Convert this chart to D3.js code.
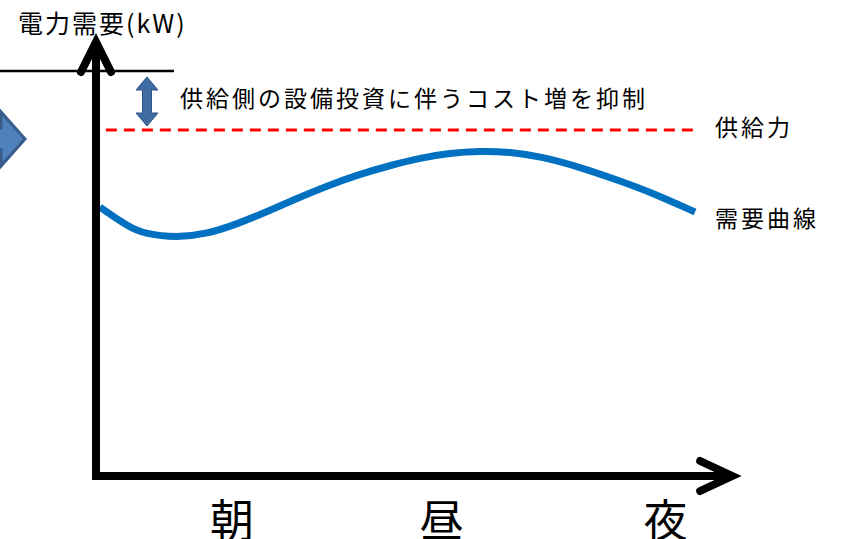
<!DOCTYPE html>
<html>
<head>
<meta charset="utf-8">
<script src="https://cdn.jsdelivr.net/npm/d3@7"></script>
<style>
html,body{margin:0;padding:0;background:#fff;overflow:hidden;}
text{font-family:"Noto Sans CJK JP","Noto Sans",sans-serif;fill:#000;}
</style>
</head>
<body>
<script>
// ---- data ----
const timeLabels = ["朝", "昼", "夜"];
const timeLabelPos = [21.25, 54, 89];           // position along time axis (0-100)
const demandTime = [0.6, 5.05, 7.65, 12.65, 17.35, 22.05, 26.75, 31.4, 36.1, 40.8, 46.2, 50.6, 55.3, 60, 64.7, 69.4, 75.6, 81.9, 86.6, 93.6];
const demandValue = [67.25, 62.3, 60.5, 59.6, 60.5, 63, 66.1, 69.4, 72.5, 75.25, 77.75, 79.5, 80.75, 81.25, 81, 79.9, 77.25, 73.75, 71, 66];
const supplyValue = 86.5;
const supplyRange = [0.6, 96];
const yAxisTitle = "電力需要(kW)";
const supplyLabel = "供給力";
const demandLabel = "需要曲線";
const noteLabel = "供給側の設備投資に伴うコスト増を抑制";

const W = 845, H = 539;
const svg = d3.select("body").append("svg").attr("width", W).attr("height", H);

const x = d3.scaleLinear().domain([0, 100]).range([96, 736]);
const y = d3.scaleLinear().domain([0, 100]).range([476, 76]);

// decoration from adjacent slide: left block arrow and top line
svg.append("path")
  .attr("d", "M-60,128 L1,128 L1,112 L25,139 L1,166 L1,150 L-60,150 Z")
  .attr("fill", "#4F81BD").attr("stroke", "#385D8A").attr("stroke-width", 3).attr("stroke-linejoin", "miter");
svg.append("line").attr("x1", 0).attr("x2", 174).attr("y1", y(101.25)).attr("y2", y(101.25))
  .attr("stroke", "#000").attr("stroke-width", 2.5);

// supply line
svg.append("line")
  .attr("x1", x(supplyRange[0]) + 6).attr("x2", x(supplyRange[1]) - 12)
  .attr("y1", y(supplyValue)).attr("y2", y(supplyValue))
  .attr("stroke", "#FF0000").attr("stroke-width", 3).attr("stroke-dasharray", "11,7");

// demand curve
const pts = demandTime.map((t, i) => [x(t), y(demandValue[i])]);
svg.append("path")
  .attr("d", d3.line().curve(d3.curveBasis)(pts))
  .attr("fill", "none").attr("stroke", "#0070C0").attr("stroke-width", 7);

// axes
const x0 = x(0), y0 = y(0), yTop = y(108.5), xEnd = x(99.4);
svg.append("path")
  .attr("d", `M${x0},${yTop} L${x0},${y0} L${xEnd},${y0}`)
  .attr("fill", "none").attr("stroke", "#000").attr("stroke-width", 8).attr("stroke-linejoin", "miter");
svg.append("path")
  .attr("d", `M${x0 - 15},${yTop + 30} L${x0},${yTop} L${x0 + 15},${yTop + 30}`)
  .attr("fill", "none").attr("stroke", "#000").attr("stroke-width", 8)
  .attr("stroke-linecap", "round").attr("stroke-linejoin", "miter");
svg.append("path")
  .attr("d", `M${xEnd - 32},${y0 - 15} L${xEnd},${y0} L${xEnd - 32},${y0 + 15}`)
  .attr("fill", "none").attr("stroke", "#000").attr("stroke-width", 8)
  .attr("stroke-linecap", "round").attr("stroke-linejoin", "miter");

// double arrow
const ax = 147, ay1 = y(99.75), ay2 = y(87.5);
svg.append("path")
  .attr("d", `M${ax},${ay1} L${ax + 11},${ay1 + 13} L${ax + 4.5},${ay1 + 13} L${ax + 4.5},${ay2 - 13} L${ax + 11},${ay2 - 13} L${ax},${ay2} L${ax - 11},${ay2 - 13} L${ax - 4.5},${ay2 - 13} L${ax - 4.5},${ay1 + 13} L${ax - 11},${ay1 + 13} Z`)
  .attr("fill", "#3F6CA2").attr("stroke", "#2E5283").attr("stroke-width", 1);

// texts
svg.append("text").attr("x", 18).attr("y", 33).attr("font-size", 25).attr("letter-spacing", 2).text(yAxisTitle);
svg.append("text").attr("x", 180).attr("y", 107).attr("font-size", 23).attr("letter-spacing", 3).text(noteLabel);
svg.append("text").attr("x", 715).attr("y", 136).attr("font-size", 23).attr("letter-spacing", 3).text(supplyLabel);
svg.append("text").attr("x", 715).attr("y", 227).attr("font-size", 23).attr("letter-spacing", 3).text(demandLabel);

svg.selectAll(".tl").data(timeLabels).enter().append("text")
  .attr("class", "tl")
  .attr("x", (d, i) => x(timeLabelPos[i]))
  .attr("y", 537)
  .attr("text-anchor", "middle")
  .attr("font-size", 44)
  .text(d => d);
</script>
</body>
</html>
